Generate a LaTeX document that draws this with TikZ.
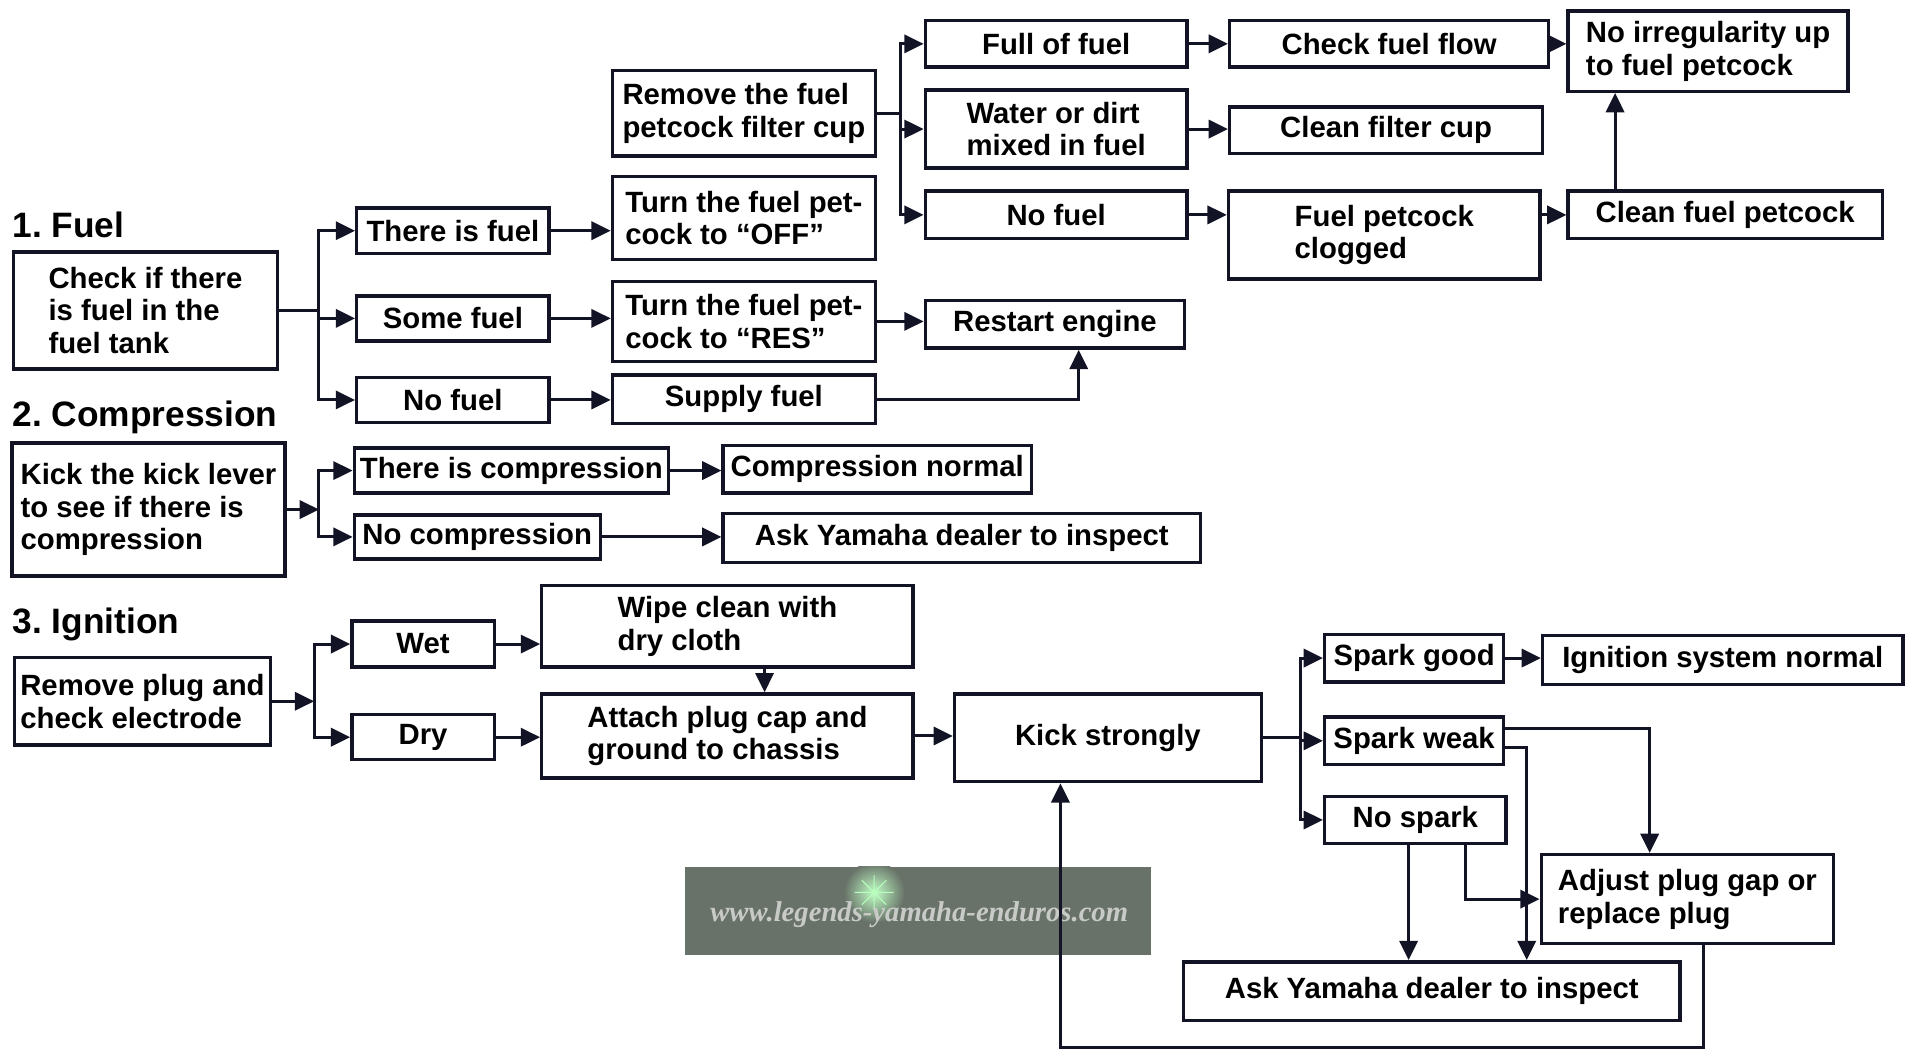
\documentclass[tikz,border=0pt]{standalone}
\usepackage{fontspec}
\setmainfont{Liberation Sans}
\newfontfamily\markfont{Liberation Serif}
\usetikzlibrary{arrows.meta}
\definecolor{Ink}{RGB}{18,20,38}
\definecolor{MarkGrey}{RGB}{104,114,104}
\definecolor{MarkText}{RGB}{200,202,200}
\definecolor{GlowGreen}{RGB}{150,255,160}

\begin{document}
\begin{tikzpicture}[x=0.2mm,y=-0.2mm,
          bx/.style={draw=Ink,line width=1.6pt,fill=white,inner sep=2pt,
                     font=\fontsize{13.7}{15.3}\selectfont\bfseries,text=black},
          ttl/.style={anchor=west,inner sep=0pt,font=\fontsize{16.5}{18}\selectfont\bfseries},
          ar/.style={-{Triangle[length=9pt,width=8.5pt]},line width=1.4pt,Ink},
          ln/.style={line width=1.4pt,Ink}
        ]
          \fill[white] (0,0) rectangle (1568,868);
          \useasboundingbox (0,0) rectangle (1568,868);

          \fill[MarkGrey] (563,712) rectangle (945,784);
          \begin{scope}
            \clip (563,712) rectangle (945,784);
            \shade[inner color=GlowGreen!60!white,outer color=MarkGrey] (718,733) circle (0.5cm);
            \draw[GlowGreen!70!white,line width=0.5pt] (702,733) -- (734,733) (718,719) -- (718,747)
              (708,723) -- (728,743) (708,743) -- (728,723);
          \end{scope}
          \node(wm)[inner sep=0pt,text=MarkText,font=\markfont\itshape\bfseries\fontsize{13.4}{15}\selectfont] at (755,751) {www.legends-yamaha-enduros.com};

          \node(tfuel)[ttl] at (10,185) {1.\ Fuel};
          \node(chk)[bx,minimum width=4.34cm,minimum height=1.92cm,align=left] at (119.5,255) {Check if there\\is fuel in the\\fuel tank};
          \node(isf)[bx,minimum width=3.16cm,minimum height=0.74cm] at (372,189.5) {There is fuel};
          \node(smf)[bx,minimum width=3.16cm,minimum height=0.74cm] at (372,261.5) {Some fuel};
          \node(nof)[bx,minimum width=3.16cm,minimum height=0.74cm] at (372,328.5) {No fuel};
          \node(rem)[bx,minimum width=4.32cm,minimum height=1.4cm,align=left] at (611,93) {Remove the fuel\\petcock filter cup};
          \node(off)[bx,minimum width=4.32cm,minimum height=1.36cm,align=left] at (611,179) {Turn the fuel pet-\\cock to ``OFF''};
          \node(res)[bx,minimum width=4.32cm,minimum height=1.32cm,align=left] at (611,264) {Turn the fuel pet-\\cock to ``RES''};
          \node(sup)[bx,minimum width=4.32cm,minimum height=0.8cm] at (611,328) {Supply fuel};
          \node(ful)[bx,minimum width=4.3cm,minimum height=0.76cm] at (867.5,36) {Full of fuel};
          \node(wat)[bx,minimum width=4.3cm,minimum height=1.28cm,align=left] at (867.5,106) {Water or dirt\\mixed in fuel};
          \node(nof2)[bx,minimum width=4.3cm,minimum height=0.78cm] at (867.5,176.5) {No fuel};
          \node(flw)[bx,minimum width=5.24cm,minimum height=0.76cm] at (1141,36) {Check fuel flow};
          \node(cup)[bx,minimum width=5.14cm,minimum height=0.76cm] at (1138.5,107) {Clean filter cup};
          \node(clg)[bx,minimum width=5.12cm,minimum height=1.44cm,align=left] at (1137,193) {Fuel petcock\\clogged};
          \node(nir)[bx,minimum width=4.6cm,minimum height=1.32cm,align=left] at (1403,42) {No irregularity up\\to fuel petcock};
          \node(cln)[bx,minimum width=5.16cm,minimum height=0.78cm] at (1417,176.5) {Clean fuel petcock};
          \node(rst)[bx,minimum width=4.26cm,minimum height=0.78cm] at (866.5,266.5) {Restart engine};

          \node(tcomp)[ttl] at (10,343) {2.\ Compression};
          \node(kck)[bx,minimum width=4.48cm,minimum height=2.18cm,align=left] at (122,418.5) {Kick the kick lever\\to see if there is\\compression};
          \node(isc)[bx,minimum width=5.16cm,minimum height=0.74cm] at (420,386.5) {There is compression};
          \node(noc)[bx,minimum width=4.04cm,minimum height=0.72cm] at (392,441) {No compression};
          \node(cnm)[bx,minimum width=5.06cm,minimum height=0.78cm] at (720.5,385.5) {Compression normal};
          \node(ask1)[bx,minimum width=7.84cm,minimum height=0.8cm] at (790,442) {Ask Yamaha dealer to inspect};

          \node(tign)[ttl] at (10,513) {3.\ Ignition};
          \node(plg)[bx,minimum width=4.2cm,minimum height=1.44cm,align=left] at (117,576) {Remove plug and\\check electrode};
          \node(wet)[bx,minimum width=2.34cm,minimum height=0.76cm] at (347.5,529) {Wet};
          \node(dry)[bx,minimum width=2.34cm,minimum height=0.74cm] at (347.5,605.5) {Dry};
          \node(wip)[bx,minimum width=6.1cm,minimum height=1.34cm,align=left] at (597.5,514.5) {Wipe clean with\\dry cloth};
          \node(att)[bx,minimum width=6.1cm,minimum height=1.38cm,align=left] at (597.5,604.5) {Attach plug cap and\\ground to chassis};
          \node(kst)[bx,minimum width=5.04cm,minimum height=1.44cm] at (910,606) {Kick strongly};
          \node(spg)[bx,minimum width=2.94cm,minimum height=0.78cm] at (1161.5,540.5) {Spark good};
          \node(spw)[bx,minimum width=2.94cm,minimum height=0.78cm] at (1161.5,608.5) {Spark weak};
          \node(nsp)[bx,minimum width=2.98cm,minimum height=0.78cm] at (1162.5,673.5) {No spark};
          \node(ign)[bx,minimum width=5.92cm,minimum height=0.8cm] at (1415,542) {Ignition system normal};
          \node(adj)[bx,minimum width=4.8cm,minimum height=1.46cm,align=left] at (1386,738.5) {Adjust plug gap or\\replace plug};
          \node(ask2)[bx,minimum width=8.16cm,minimum height=0.96cm] at (1176,814) {Ask Yamaha dealer to inspect};

          \coordinate(fj) at (262,255);
          \coordinate(rj) at (740,93);
          \coordinate(kj) at (262,418.5);
          \coordinate(pj) at (258,576);
          \coordinate(sj) at (1068,606);
          \coordinate(lp) at (871,860);

          \draw[ln] (chk.east) -- (fj);
          \draw[ar] (fj) |- (isf);
          \draw[ar] (fj) |- (smf);
          \draw[ar] (fj) |- (nof);
          \draw[ar] (isf.east) -- (isf.east -| off.west);
          \draw[ar] (smf.east) -- (smf.east -| res.west);
          \draw[ar] (nof.east) -- (nof.east -| sup.west);
          \draw[ln] (rem.east) -- (rj);
          \draw[ar] (rj) |- (ful);
          \draw[ar] (rj) |- (wat);
          \draw[ar] (rj) |- (nof2);
          \draw[ar] (ful.east) -- (ful.east -| flw.west);
          \draw[ar] (wat.east) -- (wat.east -| cup.west);
          \draw[ar] (nof2.east) -- (nof2.east -| clg.west);
          \draw[ar] (flw.east) -- (flw.east -| nir.west);
          \draw[ar] (cln.west -| clg.east) -- (cln.west);
          \draw[ar] ([xshift=0.8cm]cln.north west) -- ([xshift=0.8cm]cln.north west |- nir.south);
          \draw[ar] (res.east) -- (res.east -| rst.west);
          \draw[ar] (sup.east) -| ([xshift=0.39cm]rst.south);

          \draw[ar] (kck.east) -- (kj);
          \draw[ar] (kj) |- (isc);
          \draw[ar] (kj) |- (noc);
          \draw[ar] (isc.east) -- (isc.east -| cnm.west);
          \draw[ar] (noc.east) -- (noc.east -| ask1.west);

          \draw[ar] (plg.east) -- (pj);
          \draw[ar] (pj) |- (wet);
          \draw[ar] (pj) |- (dry);
          \draw[ar] (wet.east) -- (wet.east -| wip.west);
          \draw[ar] (dry.east) -- (dry.east -| att.west);
          \draw[ar] ([xshift=0.61cm]wip.south) -- ([xshift=0.61cm]wip.south |- att.north);
          \draw[ar] (att.east) -- (att.east -| kst.west);
          \draw[ln] (kst.east) -- (sj);
          \draw[ar] (sj) |- (spg);
          \draw[ar] (sj) |- (spw);
          \draw[ar] (sj) |- (nsp);
          \draw[ar] (spg.east) -- (spg.east -| ign.west);
          \draw[ar] ([yshift=0.21cm]spw.east) -| ([xshift=-0.62cm]adj.north);
          \draw[ar] ([yshift=-0.11cm]spw.east) -| ([xshift=1.56cm]ask2.north);
          \draw[ar] ([xshift=-0.11cm]nsp.south) -- ([xshift=-0.11cm]nsp.south |- ask2.north);
          \draw[ar] ([xshift=0.83cm]nsp.south) |- (adj.west);
          \draw[ar] ([xshift=0.26cm]adj.south) |- (lp) -- (lp |- kst.south);
        \end{tikzpicture}
\end{document}
